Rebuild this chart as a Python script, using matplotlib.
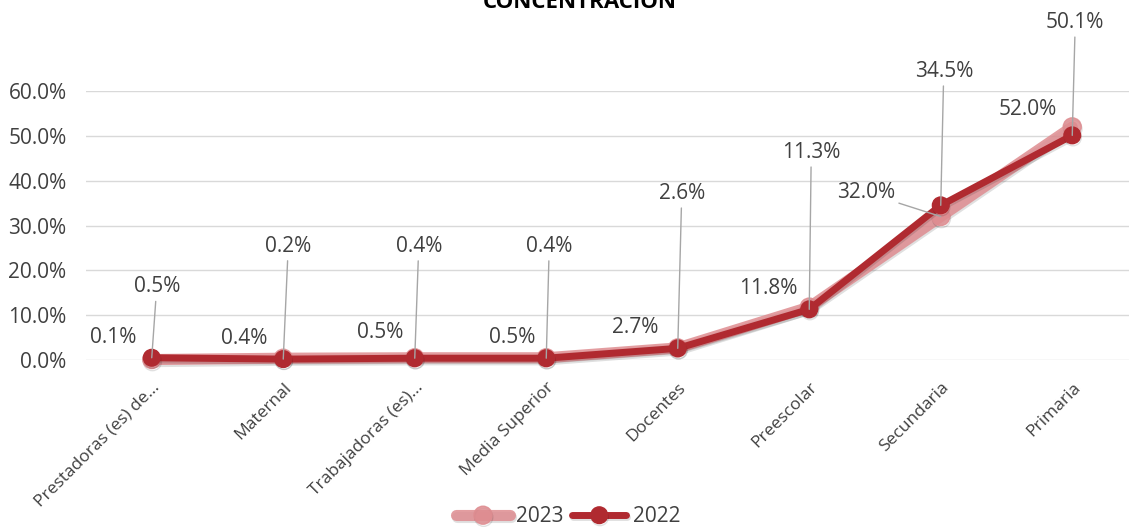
import matplotlib.pyplot as plt
import matplotlib.patheffects as pe
from matplotlib.ticker import PercentFormatter

plt.rcParams['font.family'] = ['Open Sans', 'DejaVu Sans']

categories = ["Prestadoras (es) de...", "Maternal", "Trabajadoras (es)...", "Media Superior",
              "Docentes", "Preescolar", "Secundaria", "Primaria"]
values_2023 = [0.1, 0.4, 0.5, 0.5, 2.7, 11.8, 32.0, 52.0]
values_2022 = [0.5, 0.2, 0.4, 0.4, 2.6, 11.3, 34.5, 50.1]

# label offsets in pixels (dx, dy) from each point
off_2022 = [(5, 71), (5, 113), (4, 112), (3, 112), (4, 155), (2, 157), (3, 134), (3, 113)]
off_2023 = [(-39, 22), (-39, 20), (-35, 25), (-34, 20), (-43, 20), (-41, 19), (-75, 24), (-45, 17)]

colors = {"2023": "#DE8C90", "2022": "#B02A30"}
text_color = "#404040"

fig = plt.figure(figsize=(11.29, 5.29), dpi=100)
ax = fig.add_axes([86 / 1129, 169 / 529, 1052 / 1129, 269 / 529])

x = range(len(categories))
shadow = [pe.SimpleLineShadow(offset=(0.5, -1.5), alpha=0.12, shadow_color="black"), pe.Normal()]

ax.plot(x, values_2023, color=colors["2023"], lw=8, marker="o", markersize=13,
        solid_capstyle="round", alpha=0.85, label="2023", clip_on=False, zorder=3, path_effects=shadow)
ax.plot(x, values_2022, color=colors["2022"], lw=5, marker="o", markersize=12,
        solid_capstyle="round", label="2022", clip_on=False, zorder=4, path_effects=shadow)

leader = dict(arrowstyle="-", color="#a6a6a6", lw=1, shrinkA=1, shrinkB=0)
for i in x:
    ax.annotate(f"{values_2022[i]:.1f}%", (i, values_2022[i]), xytext=off_2022[i],
                textcoords="offset pixels", ha="center", va="center", fontsize=15,
                color=text_color, arrowprops=leader, zorder=5, annotation_clip=False)
    props = leader if i == 6 else None
    ax.annotate(f"{values_2023[i]:.1f}%", (i, values_2023[i]), xytext=off_2023[i],
                textcoords="offset pixels", ha="center", va="center", fontsize=15,
                color=text_color, arrowprops=props, zorder=5, annotation_clip=False)

ax.set_xlim(-0.5, len(categories) - 0.5)
ax.set_ylim(0, 60)
ax.set_yticks(range(0, 61, 10))
ax.yaxis.set_major_formatter(PercentFormatter(decimals=1))
ax.set_xticks(list(x))
ax.set_xticklabels(categories, rotation=45, ha="right", rotation_mode="anchor",
                   fontsize=12.5, color=text_color)
ax.tick_params(axis="y", labelsize=15, labelcolor=text_color, length=0, pad=14)
ax.tick_params(axis="x", length=0, pad=14)
ax.grid(axis="y", color="#d9d9d9", lw=1)
ax.set_axisbelow(True)
for s in ax.spines.values():
    s.set_visible(False)

fig.text(580 / 1129, 1 - 8 / 529, "CONCENTRACIÓN", ha="center", va="baseline",
         fontsize=16, fontweight="bold", color="#000000")

fig.legend(loc="center", bbox_to_anchor=(568 / 1129, 12 / 529), ncol=2, frameon=False,
           fontsize=15, handlelength=2.6, columnspacing=0.4, handletextpad=0.3,
           labelcolor=text_color)

fig.savefig("out.png", dpi=100)
